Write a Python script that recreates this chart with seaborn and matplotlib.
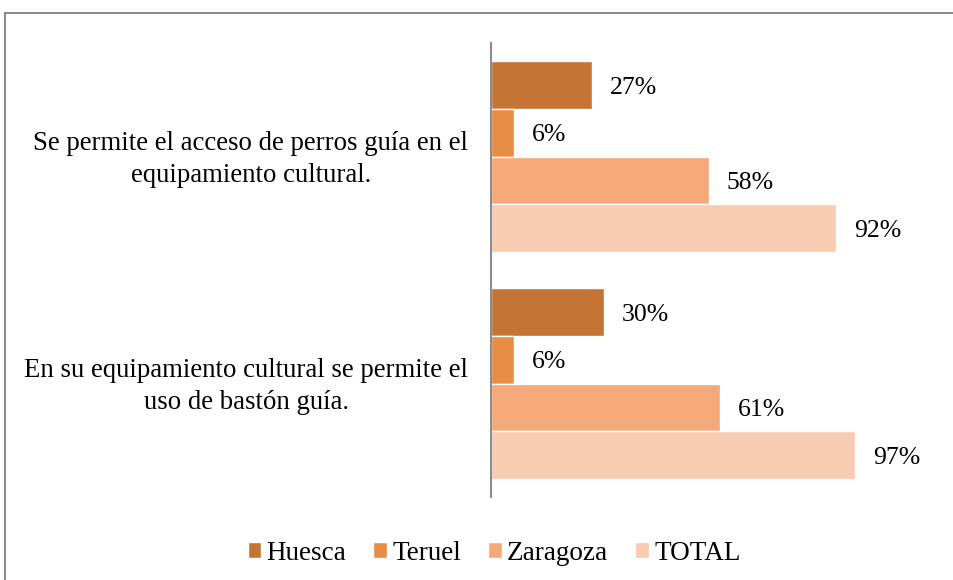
import pandas as pd
import seaborn as sns
import matplotlib.pyplot as plt
from matplotlib.patches import Rectangle
from matplotlib.transforms import ScaledTranslation

# datos
preguntas = ["Se permite el acceso de perros guía en el\nequipamiento cultural.",
             "En su equipamiento cultural se permite el\nuso de bastón guía."]
provincias = ["Huesca", "Teruel", "Zaragoza", "TOTAL"]
huesca = [0.27, 0.30]
teruel = [0.06, 0.06]
zaragoza = [0.58, 0.61]
total = [0.92, 0.97]
colores = ["#C47536", "#E88D45", "#F6A978", "#F8CBB3"]

filas = []
for prov, vals in zip(provincias, [huesca, teruel, zaragoza, total]):
    for p, v in zip(preguntas, vals):
        filas.append({"pregunta": p, "provincia": prov, "valor": v})
df = pd.DataFrame(filas)

sns.set_style("white")
plt.rcParams['font.family'] = ['Liberation Serif', 'DejaVu Serif']
plt.rcParams['text.color'] = 'black'
plt.rcParams['ytick.labelcolor'] = 'black'

fig = plt.figure(figsize=(9.54, 5.8), dpi=100)
ax = fig.add_axes([491/954, 1 - 497/580, 375/954, 454/580])

sns.barplot(data=df, x="valor", y="pregunta", hue="provincia", orient="h",
            palette=colores, width=0.842, saturation=1, ax=ax)

for c in ax.containers:
    etiquetas = ax.bar_label(c, labels=[f"{b.get_width():.0%}" for b in c],
                             padding=13, fontsize=18.5, color="black", clip_on=False)
    for t in etiquetas:
        t.xyann = (13, -2)

ax.set_xlim(0, 1)
ax.set_ylim(1.5, -0.5)
ax.set_xticks([])
ax.set_xlabel("")
ax.set_ylabel("")
ax.tick_params(axis="y", length=0, pad=16.5, labelsize=19.3, labelcolor="black")
bajar = ScaledTranslation(0, -0.03, fig.dpi_scale_trans)
for lbl in ax.get_yticklabels():
    lbl.set_multialignment("center")
    lbl.set_linespacing(1.4)
    lbl.set_va("center")
    lbl.set_transform(lbl.get_transform() + bajar)

for s in ["top", "right", "bottom"]:
    ax.spines[s].set_visible(False)
ax.spines["left"].set_color("#8c8c8c")
ax.spines["left"].set_linewidth(1.5)

leg = ax.legend(ncol=4, loc="center", bbox_to_anchor=(0.518, 1 - 553/580),
                bbox_transform=fig.transFigure, frameon=False, fontsize=19.5,
                handlelength=0.5, handleheight=0.5, handletextpad=0.2,
                columnspacing=1.0)
for t in leg.get_texts():
    t.set_color("black")

# marco exterior
fig.patches.append(Rectangle((5/954, -0.05), 1.05, 1 - 13/580 + 0.05,
                             transform=fig.transFigure, fill=False,
                             edgecolor="#8c8c8c", linewidth=1.5, clip_on=False))

fig.savefig("out.png", dpi=100)
